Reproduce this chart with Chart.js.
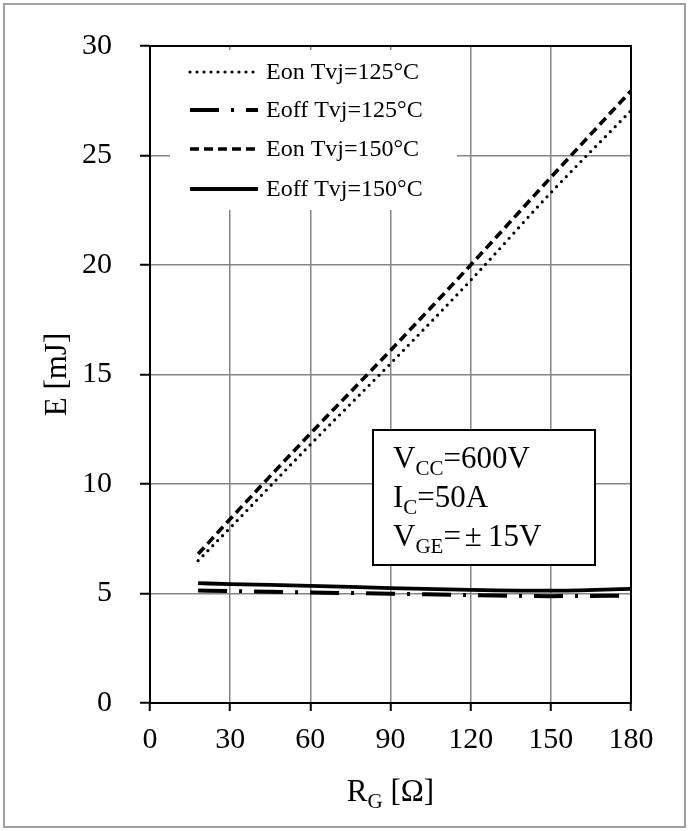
<!DOCTYPE html>
<html>
<head>
<meta charset="utf-8">
<script src="https://cdn.jsdelivr.net/npm/chart.js@4"></script>
<style>
  body { margin: 0; background: #fff; }
  #wrap { position: relative; width: 694px; height: 831px; }
</style>
</head>
<body>
<div id="wrap"><canvas id="chart"></canvas></div>
<script>
// gate resistance points and switching energies (mJ)
const rgValues = [18, 30, 60, 90, 120, 150, 180];
const eon125 = [6.5, 8.0, 11.8, 15.5, 19.3, 23.3, 27.05];
const eoff125 = [5.14, 5.11, 5.05, 4.99, 4.93, 4.88, 4.90];
const eon150 = [6.8, 8.4, 12.3, 16.1, 20.0, 24.0, 27.95];
const eoff150 = [5.47, 5.43, 5.35, 5.25, 5.17, 5.13, 5.21];

const seriesLabels = ['Eon Tvj=125\u00b0C', 'Eoff Tvj=125\u00b0C', 'Eon Tvj=150\u00b0C', 'Eoff Tvj=150\u00b0C'];
const xTicks = [0, 30, 60, 90, 120, 150, 180];
const yTicks = [0, 5, 10, 15, 20, 25, 30];

const SERIF = "'Liberation Serif', 'DejaVu Serif', serif";

// line styles per series
const styles = [
  { dash: [0, 7], width: 3.2, cap: 'round' },
  { dash: [29, 12, 3, 12], width: 4, cap: 'butt' },
  { dash: [9, 5], width: 3.6, cap: 'butt' },
  { dash: [], width: 3.8, cap: 'butt' }
];

const allSeries = [eon125, eoff125, eon150, eoff150];
const datasets = allSeries.map((vals, i) => ({
  label: seriesLabels[i],
  data: rgValues.map((x, j) => ({ x: x, y: vals[j] })),
  borderColor: '#000',
  borderWidth: styles[i].width,
  borderDash: styles[i].dash,
  borderCapStyle: styles[i].cap,
  pointRadius: 0,
  cubicInterpolationMode: 'monotone',
  fill: false
}));

// draws text with a subscript part, pieces = [[text, isSub, gapAfter], ...]
function drawRich(ctx, pieces, x, y, size, subSize, align) {
  let total = 0;
  pieces.forEach(p => {
    ctx.font = (p[1] ? subSize : size) + 'px ' + SERIF;
    total += ctx.measureText(p[0]).width + (p[2] || 0);
  });
  let cx = align === 'center' ? x - total / 2 : x;
  ctx.textAlign = 'left';
  ctx.textBaseline = 'alphabetic';
  pieces.forEach(p => {
    ctx.font = (p[1] ? subSize : size) + 'px ' + SERIF;
    ctx.fillText(p[0], cx, p[1] ? y + 7 : y);
    cx += ctx.measureText(p[0]).width + (p[2] || 0);
  });
}

const overlay = {
  id: 'overlay',
  afterDatasetsDraw(chart) {
    const ctx = chart.ctx;
    const a = chart.chartArea;
    ctx.save();

    // legend box inside the plot
    ctx.fillStyle = '#fff';
    ctx.fillRect(170, 50, 287, 160);
    const rows = [72, 110, 149, 189];
    rows.forEach((ry, i) => {
      ctx.strokeStyle = '#000';
      ctx.lineWidth = styles[i].width;
      ctx.setLineDash(styles[i].dash);
      ctx.lineCap = styles[i].cap;
      ctx.beginPath();
      ctx.moveTo(190, ry);
      ctx.lineTo(258, ry);
      ctx.stroke();
      ctx.setLineDash([]);
      ctx.lineCap = 'butt';
      ctx.fillStyle = '#000';
      ctx.font = '24px ' + SERIF;
      ctx.textAlign = 'left';
      ctx.textBaseline = 'middle';
      ctx.fillText(seriesLabels[i], 266, ry + 1);
    });

    // conditions box
    ctx.fillStyle = '#fff';
    ctx.fillRect(373, 430, 222, 135);
    ctx.strokeStyle = '#000';
    ctx.lineWidth = 2;
    ctx.strokeRect(373, 430, 222, 135);
    ctx.fillStyle = '#000';
    drawRich(ctx, [['V', false], ['CC', true], ['=600V', false]], 393, 468, 31, 21);
    drawRich(ctx, [['I', false], ['C', true], ['=50A', false]], 393, 507, 31, 21);
    drawRich(ctx, [['V', false], ['GE', true], ['=', false, 4], ['\u00b1', false, 6], ['15V', false]], 393, 546, 31, 21);

    // frame of the plot area
    ctx.strokeStyle = '#000';
    ctx.lineWidth = 2;
    ctx.strokeRect(a.left, a.top, a.right - a.left, a.bottom - a.top);

    // x axis title with subscript
    drawRich(ctx, [['R', false], ['G', true], [' [\u03a9]', false]], (a.left + a.right) / 2, 801, 31, 21, 'center');

    // outer frame
    ctx.strokeStyle = '#a0a0a0';
    ctx.lineWidth = 2;
    ctx.strokeRect(4, 4, 681, 823);
    ctx.restore();
  }
};

new Chart(document.getElementById('chart'), {
  type: 'line',
  data: { datasets: datasets },
  options: {
    responsive: true,
    maintainAspectRatio: false,
    animation: false,
    layout: { padding: { top: 34, right: 63, left: 0, bottom: 0 } },
    plugins: { legend: { display: false }, tooltip: { enabled: false } },
    scales: {
      x: {
        type: 'linear',
        min: 0,
        max: 180,
        afterFit: s => { s.height = 128; },
        afterBuildTicks: s => { s.ticks = xTicks.map(v => ({ value: v })); },
        ticks: { color: '#000', font: { family: SERIF, size: 30 }, padding: 11, maxRotation: 0 },
        grid: { color: '#858585', lineWidth: 1.5, tickLength: 8, tickColor: '#000', tickWidth: 2 },
        border: { color: '#000', width: 2 }
      },
      y: {
        min: 0,
        max: 30,
        afterFit: s => { s.width = 150; },
        afterBuildTicks: s => { s.ticks = yTicks.map(v => ({ value: v })); },
        ticks: { color: '#000', font: { family: SERIF, size: 30 }, padding: 28 },
        grid: { color: '#858585', lineWidth: 1.5, tickLength: 10, tickColor: '#000', tickWidth: 2 },
        border: { color: '#000', width: 2 },
        title: { display: true, text: 'E [mJ]', color: '#000', font: { family: SERIF, size: 31 }, padding: { top: 39, bottom: 0 } }
      }
    }
  },
  plugins: [overlay]
});
</script>
</body>
</html>
